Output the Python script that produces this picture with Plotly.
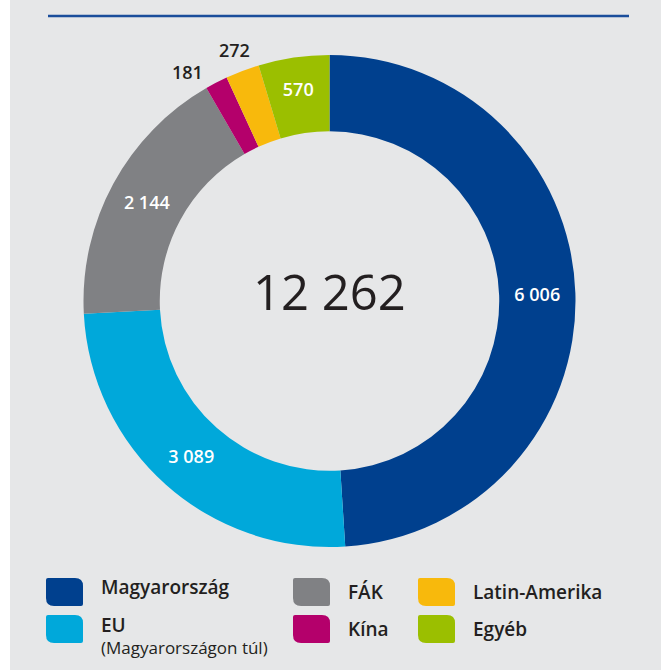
import math
import plotly.graph_objects as go

# ---- data ----
categories = ["Magyarország", "EU", "FÁK", "Kína", "Latin-Amerika", "Egyéb"]
values = [6006, 3089, 2144, 181, 272, 570]
colors = ["#00408e", "#00a8da", "#808184", "#b4006b", "#f8b90c", "#9bbf00"]
label_inside = [True, True, True, False, False, True]
legend_notes = ["", "(Magyarországon túl)", "", "", "", ""]
# legend grid: (column, row) for each category
legend_grid = [(0, 0), (0, 1), (1, 0), (1, 1), (2, 0), (2, 1)]

W, H = 661, 670
FONT = "Open Sans"
DARK = "#231f20"


def X(px):
    return px / W


def Y(py):
    return 1 - py / H


def fmt(v):
    return f"{v:,}".replace(",", " ")


fig = go.Figure()

# pie geometry (pixels)
cx, cy, R = 329.5, 301, 246
fig.add_trace(go.Pie(
    labels=categories,
    values=values,
    sort=False,
    direction="clockwise",
    rotation=0,
    hole=0.69,
    marker=dict(colors=colors, line=dict(width=0)),
    texttemplate="%{value:,}",
    textposition=["inside" if i else "none" for i in label_inside],
    insidetextorientation="horizontal",
    insidetextfont=dict(family=FONT, size=18, color="white", weight=600),
    hoverinfo="label+value",
    showlegend=False,
    domain=dict(x=[X(cx - R), X(cx + R)], y=[Y(cy + R), Y(cy - R)]),
))

total = sum(values)
annotations = [dict(
    x=X(cx), y=Y(291), xref="paper", yref="paper",
    text=fmt(total), showarrow=False,
    font=dict(family=FONT, size=49, color=DARK),
    xanchor="center", yanchor="middle",
)]

# outside labels for the thin slices, placed along each slice's mid-angle
label_r = 268
nudges = {"Kína": (-19, -9)}
cum = 0
for name, v, inside in zip(categories, values, label_inside):
    mid = (cum + v / 2) / total
    cum += v
    if inside:
        continue
    ang = 2 * math.pi * mid
    lx = cx + label_r * math.sin(ang)
    ly = cy - label_r * math.cos(ang)
    dx, dy = nudges.get(name, (0, 0))
    annotations.append(dict(
        x=X(lx), y=Y(ly), xref="paper", yref="paper", text=fmt(v), showarrow=False,
        xanchor="center", yanchor="middle", xshift=dx, yshift=dy,
        font=dict(family=FONT, size=18, color=DARK, weight=600),
    ))

shapes = [
    # white strip on left edge
    dict(type="rect", xref="paper", yref="paper", x0=0, x1=X(10), y0=0, y1=1,
         fillcolor="white", line=dict(width=0), layer="below"),
    # header rule
    dict(type="line", xref="paper", yref="paper", x0=X(48), x1=X(629), y0=Y(16), y1=Y(16),
         line=dict(color="#1b4e9b", width=2.5)),
]

# custom legend
col_x = [46, 293, 418]
row_y = [578, 615]
sw_w, sw_h = 37, 28
big, small = 8, 2


def swatch_path(x0, y0):
    x1, y1 = x0 + sw_w, y0 + sw_h
    pts = [
        f"M {X(x0 + small)},{Y(y0)}",
        f"L {X(x1 - big)},{Y(y0)}",
        f"Q {X(x1)},{Y(y0)} {X(x1)},{Y(y0 + big)}",
        f"L {X(x1)},{Y(y1 - small)}",
        f"Q {X(x1)},{Y(y1)} {X(x1 - small)},{Y(y1)}",
        f"L {X(x0 + big)},{Y(y1)}",
        f"Q {X(x0)},{Y(y1)} {X(x0)},{Y(y1 - big)}",
        f"L {X(x0)},{Y(y0 + small)}",
        f"Q {X(x0)},{Y(y0)} {X(x0 + small)},{Y(y0)}",
        "Z",
    ]
    return " ".join(pts)


for name, col, note, (c, r) in zip(categories, colors, legend_notes, legend_grid):
    x0, y0 = col_x[c], row_y[r]
    shapes.append(dict(type="path", xref="paper", yref="paper", path=swatch_path(x0, y0),
                       fillcolor=col, line=dict(width=0)))
    ty = y0 + sw_h / 2
    if note:
        ty = y0 + 10
    elif c == 0:
        ty = y0 + 9
    annotations.append(dict(
        x=X(x0 + 53), y=Y(ty), xref="paper", yref="paper", text=name, showarrow=False,
        xanchor="left", yanchor="middle",
        font=dict(family=FONT, size=19, color=DARK, weight=600),
    ))
    if note:
        annotations.append(dict(
            x=X(x0 + 53), y=Y(ty + 22), xref="paper", yref="paper", text=note, showarrow=False,
            xanchor="left", yanchor="middle",
            font=dict(family=FONT, size=17, color=DARK),
        ))

fig.update_layout(
    width=W, height=H,
    margin=dict(l=0, r=0, t=0, b=0),
    paper_bgcolor="#e6e7e8",
    plot_bgcolor="#e6e7e8",
    separators=". ",
    shapes=shapes,
    annotations=annotations,
    font=dict(family=FONT, color=DARK),
)

fig.write_html(
    "out.html",
    config=dict(displayModeBar=False),
    post_script="document.body.style.margin='0';document.body.style.overflow='hidden';",
)
